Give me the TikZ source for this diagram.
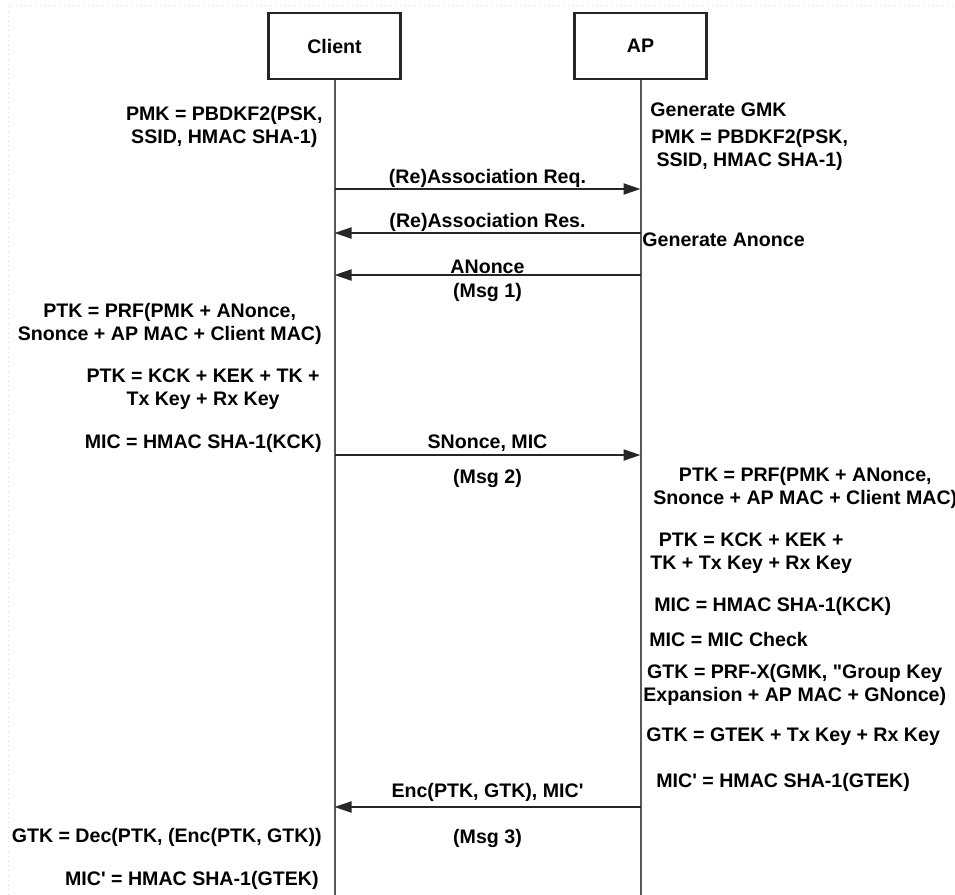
\documentclass[tikz,border=0pt]{standalone}
\usepackage{fontspec}
\setmainfont{Liberation Sans}
\usetikzlibrary{arrows.meta,positioning}
\tikzset{>={Triangle[length=8.5pt,width=5.5pt]},every node/.style={font=\bfseries\fontsize{9.8}{11.5}\selectfont},
party/.style={draw=black!85,line width=1.3pt,minimum width=66pt,minimum height=33pt},
life/.style={draw=black!65,line width=1pt},msg/.style={draw=black!85,line width=1pt,->},
lbl/.style={inner sep=0pt},lnote/.style={anchor=east,align=center,inner sep=0pt},
rnote/.style={anchor=west,align=center,inner sep=0pt}}

\begin{document}
\begin{tikzpicture}[x=0.5pt,y=-0.5pt]
\useasboundingbox (0,0) rectangle (955,895);
\draw[black!15,dotted] (8,895)--(8,5)--(955,5);
\node[party] (client) at (334.5,46){Client};\node[party] (ap) at (640.5,46){AP};
\coordinate (cend) at (client.south|-0,895);\coordinate (aend) at (ap.south|-0,895);
\draw[life] (client.south)--(cend);\draw[life] (ap.south)--(aend);
\foreach \n/\y in {1/189,2/233,3/275,4/455,5/807}{\coordinate (c\n) at (client.south|-0,\y);\coordinate (a\n) at (ap.south|-0,\y);}
\draw[msg] (c1)--(a1) node[lbl,midway,above=0pt]{(Re)Association Req.};
\draw[msg] (a2)--(c2) node[lbl,midway,above=0pt]{(Re)Association Res.};
\draw[msg] (a3)--(c3) node[lbl,midway,above=0pt]{ANonce} node[lbl,midway,below=3.5pt]{(Msg 1)};
\draw[msg] (c4)--(a4) node[lbl,midway,above=1pt]{SNonce, MIC} node[lbl,midway,below=6.5pt]{(Msg 2)};
\draw[msg] (a5)--(c5) node[lbl,midway,above=2pt]{Enc(PTK, GTK), MIC\textquotesingle} node[lbl,midway,below=10.5pt]{(Msg 3)};
% client side
\node[lnote] (lpmk) at (323,127){PMK = PBDKF2(PSK,\\SSID, HMAC SHA-1)};
\node[lnote] (lptk) at (322,323.5){PTK = PRF(PMK + ANonce,\\Snonce + AP MAC + Client MAC)};
\node[lnote] (lkeys) at (320,389.5){PTK = KCK + KEK + TK +\\Tx Key + Rx Key};
\node[lnote] (lmic) at (322,443){MIC = HMAC SHA-1(KCK)};
\node[lnote] (lgtk) at (322,837){GTK = Dec(PTK, (Enc(PTK, GTK))};
\node[lnote] (lmic2) at (319,880){MIC\textquotesingle{} = HMAC SHA-1(GTEK)};
% AP side
\node[rnote] (rgmk) at (650,110){Generate GMK};
\node[rnote] (rpmk) at (651,149.5){PMK = PBDKF2(PSK,\\SSID, HMAC SHA-1)};
\node[rnote] (rnonce) at (642,240){Generate Anonce};
\node[rnote] (rptk) at (653,487.5){PTK = PRF(PMK + ANonce,\\Snonce + AP MAC + Client MAC)};
\node[rnote] (rkeys) at (650,553){PTK = KCK + KEK +\\TK + Tx Key + Rx Key};
\node[rnote] (rmic) at (654,606){MIC = HMAC SHA-1(KCK)};
\node[rnote] (rcheck) at (649,639){MIC = MIC Check};
\node[rnote] (rgtk) at (643,684.5){GTK = PRF-X(GMK, \textquotedbl Group Key\\Expansion + AP MAC + GNonce)};
\node[rnote] (rgtek) at (646,737){GTK = GTEK + Tx Key + Rx Key};
\node[rnote] (rmic2) at (656,782){MIC\textquotesingle{} = HMAC SHA-1(GTEK)};
\end{tikzpicture}
\end{document}
